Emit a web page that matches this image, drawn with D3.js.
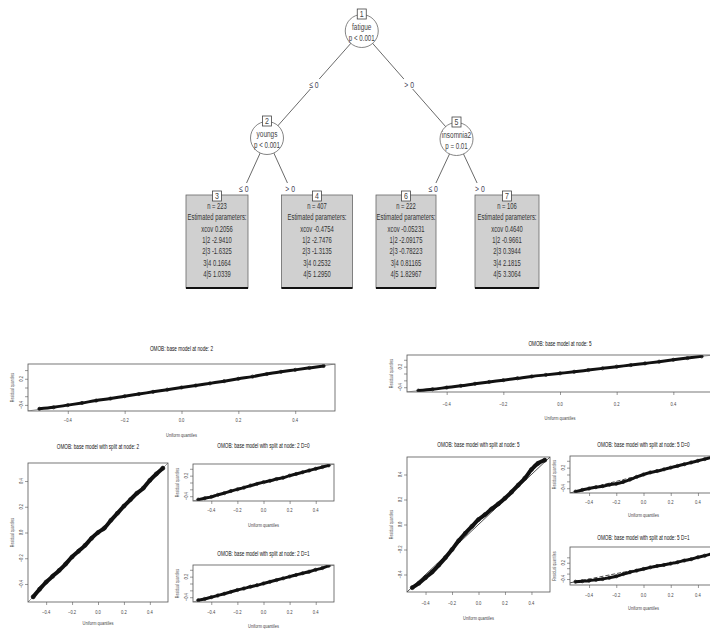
<!DOCTYPE html>
<html>
<head>
<meta charset="utf-8">
<script src="https://cdn.jsdelivr.net/npm/d3@7"></script>
<style>
  body { margin: 0; background: #fff; }
  text { font-family: "Liberation Sans", Arial, sans-serif; }
</style>
</head>
<body>
<svg id="fig" width="710" height="629"></svg>
<script>
// ---- tree data ----
const INNER_IDS = [1, 2, 5];
const INNER_VARS = ['fatigue', 'youngs', 'insomnia2'];
const INNER_P = ['p < 0.001', 'p < 0.001', 'p = 0.01'];
const INNER_KIDS = [[2, 5], [3, 4], [6, 7]];
const EDGE_LABELS = ['\u2264 0', '> 0'];

const TERM_IDS = [3, 4, 6, 7];
const TERM_N = [223, 407, 222, 106];
const PARAM_NAMES = ['xcov', '1|2', '2|3', '3|4', '4|5'];
const TERM_PARAMS = [
  ['0.2056', '-2.9410', '-1.6325', '0.1664', '1.0339'],
  ['-0.4754', '-2.7476', '-1.3135', '0.2532', '1.2950'],
  ['-0.05231', '-2.09175', '-0.78223', '0.81165', '1.82967'],
  ['0.4640', '-0.9661', '0.3944', '2.1815', '3.3064']
];

// ---- QQ plot data ----
const UNIF_Q = [-0.5, -0.45, -0.4, -0.35, -0.3, -0.25, -0.2, -0.15, -0.1, -0.05, 0,
                0.05, 0.1, 0.15, 0.2, 0.25, 0.3, 0.35, 0.4, 0.45, 0.5];
const RES_BASE2 = [-0.49, -0.455, -0.405, -0.355, -0.3, -0.255, -0.2, -0.15, -0.1, -0.05, 0.0,
                   0.045, 0.095, 0.145, 0.2, 0.25, 0.31, 0.36, 0.405, 0.45, 0.495];
const RES_BASE5 = [-0.5, -0.46, -0.41, -0.36, -0.3, -0.245, -0.195, -0.14, -0.085, -0.04, 0.005,
                   0.05, 0.1, 0.15, 0.2, 0.245, 0.295, 0.345, 0.4, 0.45, 0.5];
const RES_SPLIT2 = [-0.5, -0.44, -0.385, -0.34, -0.295, -0.245, -0.19, -0.145, -0.1, -0.045, 0.0,
                    0.035, 0.095, 0.15, 0.205, 0.255, 0.305, 0.345, 0.405, 0.455, 0.5];
const RES_SPLIT2_D0 = [-0.5, -0.46, -0.42, -0.36, -0.31, -0.25, -0.2, -0.15, -0.09, -0.04, 0.01,
                       0.05, 0.1, 0.14, 0.2, 0.25, 0.3, 0.35, 0.4, 0.45, 0.5];
const RES_SPLIT2_D1 = [-0.49, -0.45, -0.4, -0.35, -0.3, -0.245, -0.19, -0.145, -0.095, -0.05, 0.0,
                       0.05, 0.1, 0.15, 0.2, 0.25, 0.3, 0.345, 0.4, 0.45, 0.52];
const RES_SPLIT5 = [-0.505, -0.47, -0.425, -0.38, -0.325, -0.265, -0.2, -0.13, -0.07, -0.015, 0.04,
                    0.08, 0.125, 0.165, 0.21, 0.26, 0.315, 0.37, 0.44, 0.49, 0.515];
const RES_SPLIT5_D0 = [-0.5, -0.45, -0.41, -0.37, -0.34, -0.3, -0.27, -0.22, -0.15, -0.07, 0.0,
                       0.06, 0.1, 0.15, 0.2, 0.25, 0.3, 0.35, 0.4, 0.45, 0.5];
const RES_SPLIT5_D1 = [-0.5, -0.48, -0.46, -0.43, -0.4, -0.35, -0.3, -0.22, -0.15, -0.09, -0.03,
                       0.03, 0.08, 0.12, 0.17, 0.22, 0.28, 0.33, 0.4, 0.46, 0.53];

const TICKS = [-0.4, -0.2, 0, 0.2, 0.4];

const svg = d3.select('#fig');

// narrow text: the source uses a condensed face, squeeze Liberation Sans horizontally
function label(g, x, y, s, size, sx, fill, rot) {
  return g.append('text')
    .attr('transform', `translate(${x},${y})` + (rot ? ' rotate(-90)' : '') + ` scale(${sx},1)`)
    .attr('text-anchor', 'middle').attr('font-size', size).attr('fill', fill || '#333')
    .text(s);
}

// ---------------- tree ----------------
const TERM_X = { 3: 217, 4: 317, 6: 406, 7: 507 };
const TERM_W = { 3: 62, 4: 71, 6: 60, 7: 64 };
const LEVEL_Y = { 1: 31, 2: 138, 5: 139 };
const TERM_TOP = 195, TERM_BOT = 288;

const pos = {};
TERM_IDS.forEach(id => pos[id] = { x: TERM_X[id], y: TERM_TOP, term: true });
for (let i = INNER_IDS.length - 1; i >= 0; i--) {
  const id = INNER_IDS[i];
  const [a, b] = INNER_KIDS[i];
  pos[id] = { x: (pos[a].x + pos[b].x) / 2, y: LEVEL_Y[id], term: false };
}

const tree = svg.append('g');

INNER_IDS.forEach((id, i) => {
  const p = pos[id];
  INNER_KIDS[i].forEach((k, j) => {
    const c = pos[k];
    let ex, ey, ly;
    if (c.term) {
      ex = p.x + (c.x - p.x) * 0.5; ey = TERM_TOP - 2; ly = 189;
    } else {
      ex = c.x; ey = c.y; ly = 85;
    }
    tree.append('line')
      .attr('x1', p.x).attr('y1', p.y).attr('x2', ex).attr('y2', ey)
      .attr('stroke', '#444').attr('stroke-width', 0.8);
    const lx = p.x + (ex - p.x) * (ly - p.y) / (ey - p.y);
    tree.append('rect').attr('x', lx - 6).attr('y', ly - 6).attr('width', 12).attr('height', 10)
      .attr('fill', '#fff');
    label(tree, lx, ly + 3, EDGE_LABELS[j], 9.5, 0.72, '#445');
  });
});

INNER_IDS.forEach((id, i) => {
  const p = pos[id];
  tree.append('ellipse').attr('cx', p.x).attr('cy', p.y).attr('rx', 16.5).attr('ry', 16.5)
    .attr('fill', '#fff').attr('stroke', '#666').attr('stroke-width', 0.8);
  tree.append('rect').attr('x', p.x - 4.5).attr('y', p.y - 22).attr('width', 9).attr('height', 10)
    .attr('fill', '#fff').attr('stroke', '#444').attr('stroke-width', 0.8);
  label(tree, p.x, p.y - 14, id, 9, 0.78, '#444');
  label(tree, p.x, p.y - 1, INNER_VARS[i], 9.5, 0.68, '#444');
  label(tree, p.x, p.y + 10, INNER_P[i], 9.5, 0.65, '#444');
});

TERM_IDS.forEach((id, i) => {
  const p = pos[id], w = TERM_W[id];
  tree.append('rect').attr('x', p.x - w / 2).attr('y', TERM_TOP).attr('width', w)
    .attr('height', TERM_BOT - TERM_TOP)
    .attr('fill', '#d0d0d0').attr('stroke', '#666').attr('stroke-width', 0.8);
  tree.append('line').attr('x1', p.x - w / 2).attr('x2', p.x + w / 2)
    .attr('y1', TERM_BOT).attr('y2', TERM_BOT).attr('stroke', '#111').attr('stroke-width', 2);
  tree.append('rect').attr('x', p.x - 4.5).attr('y', TERM_TOP - 4).attr('width', 9).attr('height', 10)
    .attr('fill', '#fff').attr('stroke', '#444').attr('stroke-width', 0.8);
  label(tree, p.x, TERM_TOP + 4, id, 9, 0.78, '#444');
  const lines = ['n = ' + TERM_N[i], 'Estimated parameters:']
    .concat(PARAM_NAMES.map((nm, k) => nm + ' ' + TERM_PARAMS[i][k]));
  lines.forEach((t, k) => {
    label(tree, p.x, TERM_TOP + 14 + k * 11.3, t, 9.3, 0.63, '#333');
  });
});

// ---------------- QQ panels ----------------
const PANELS = [
  { title: 'OMOB: base model at node: 2', res: RES_BASE2, x0: 28, x1: 335, y0: 364, y1: 411,
    ty: 351, ky: 422, ly: 437, yd: [-0.54, 0.54], labs: [-0.4, 0.2], big: false, ref: 'gray' },
  { title: 'OMOB: base model at node: 5', res: RES_BASE5, x0: 407, x1: 713, y0: 355, y1: 392,
    ty: 346, ky: 406, ly: 420, yd: [-0.54, 0.54], labs: [-0.4, 0.2], big: false, ref: 'gray' },
  { title: 'OMOB: base model with split at node: 2', res: RES_SPLIT2, x0: 28, x1: 168, y0: 463, y1: 602,
    ty: 449, ky: 614, ly: 625, yd: [-0.54, 0.54], labs: TICKS, big: true, ref: 'gray' },
  { title: 'OMOB: base model with split at node: 2 D=0', res: RES_SPLIT2_D0, x0: 193, x1: 334, y0: 464, y1: 501,
    ty: 448, ky: 512, ly: 527, yd: [-0.54, 0.54], labs: [-0.4, 0.2], big: false, ref: 'gray' },
  { title: 'OMOB: base model with split at node: 2 D=1', res: RES_SPLIT2_D1, x0: 193, x1: 334, y0: 565, y1: 602,
    ty: 556, ky: 614, ly: 628, yd: [-0.54, 0.54], labs: [-0.4, 0.2], big: false, ref: 'gray' },
  { title: 'OMOB: base model with split at node: 5', res: RES_SPLIT5, x0: 407, x1: 550, y0: 457, y1: 592,
    ty: 447, ky: 605, ly: 620, yd: [-0.54, 0.54], labs: TICKS, big: true, ref: 'solid' },
  { title: 'OMOB: base model with split at node: 5 D=0', res: RES_SPLIT5_D0, x0: 570, x1: 717, y0: 456, y1: 493,
    ty: 447, ky: 504, ly: 517, yd: [-0.54, 0.54], labs: [-0.4, 0.2], big: false, ref: 'dash' },
  { title: 'OMOB: base model with split at node: 5 D=1', res: RES_SPLIT5_D1, x0: 570, x1: 717, y0: 547, y1: 585,
    ty: 540, ky: 597, ly: 610, yd: [-0.62, 0.78], labs: [-0.4, 0.2], big: false, ref: 'dash' }
];

const fmt = d3.format('.1f');

PANELS.forEach((p, pi) => {
  const g = svg.append('g');
  const x = d3.scaleLinear().domain([-0.54, 0.54]).range([p.x0, p.x1]);
  const y = d3.scaleLinear().domain(p.yd).range([p.y1, p.y0]);
  const mid = (p.x0 + p.x1) / 2;

  g.append('clipPath').attr('id', 'clip' + pi).append('rect')
    .attr('x', p.x0).attr('y', p.y0).attr('width', p.x1 - p.x0).attr('height', p.y1 - p.y0);

  const inner = g.append('g').attr('clip-path', 'url(#clip' + pi + ')');
  const pts = UNIF_Q.map((u, i) => [u, p.res[i]]);

  inner.append('line')
    .attr('x1', x(-0.54)).attr('y1', y(-0.54)).attr('x2', x(0.54)).attr('y2', y(0.54))
    .attr('stroke', p.ref === 'gray' ? '#999' : '#222')
    .attr('stroke-width', p.ref === 'gray' ? 1 : 0.8)
    .attr('stroke-dasharray', p.ref === 'dash' ? '4,2' : null);

  inner.append('path').datum(pts)
    .attr('d', d3.line().x(d => x(d[0])).y(d => y(d[1])).curve(d3.curveMonotoneX))
    .attr('fill', 'none').attr('stroke', '#111')
    .attr('stroke-width', p.big ? 4 : 3).attr('stroke-linecap', 'round');
  inner.selectAll('circle').data(pts).enter().append('circle')
    .attr('cx', d => x(d[0])).attr('cy', d => y(d[1])).attr('r', p.big ? 2 : 1.6)
    .attr('fill', 'none').attr('stroke', '#111').attr('stroke-width', 0.7);

  g.append('rect').attr('x', p.x0).attr('y', p.y0).attr('width', p.x1 - p.x0).attr('height', p.y1 - p.y0)
    .attr('fill', 'none').attr('stroke', '#555').attr('stroke-width', 0.8);

  const ax = g.append('g').attr('transform', `translate(0,${p.y1})`)
    .call(d3.axisBottom(x).tickValues(TICKS).tickSize(3).tickFormat(''));
  ax.select('.domain').remove();
  ax.selectAll('line').attr('stroke', '#555').attr('stroke-width', 0.6);
  TICKS.forEach(v => label(g, x(v), p.ky, fmt(v), 5.5, 0.75, '#444'));

  const ay = g.append('g').attr('transform', `translate(${p.x0},0)`)
    .call(d3.axisLeft(y).tickValues(TICKS).tickSize(3).tickFormat(''));
  ay.select('.domain').remove();
  ay.selectAll('line').attr('stroke', '#555').attr('stroke-width', 0.6);
  p.labs.forEach(v => label(g, p.x0 - 5, y(v), fmt(v), 5.5, 0.75, '#444', true));

  label(g, mid, p.ty, p.title, 6.5, 0.72, '#111');
  label(g, mid, p.ly, 'Uniform quantiles', 5.5, 0.72, '#444');
  label(g, p.x0 - 14, (p.y0 + p.y1) / 2, 'Residual quantiles', 5, 0.72, '#555', true);
});
</script>
</body>
</html>
